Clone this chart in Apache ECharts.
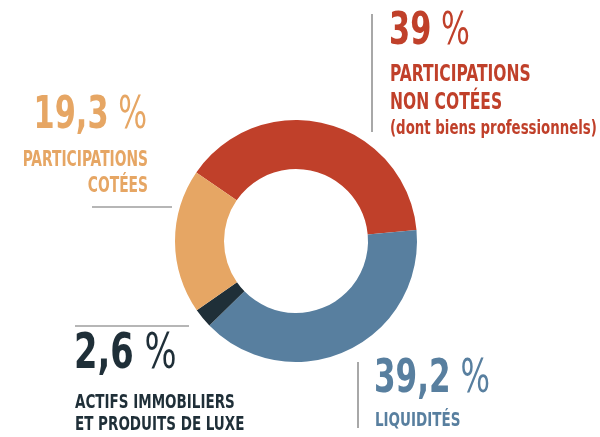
<!DOCTYPE html>
<html>
<head>
<meta charset="utf-8">
<script src="https://cdn.jsdelivr.net/npm/echarts@6/dist/echarts.min.js"></script>
<style>
  html, body { margin: 0; padding: 0; background: #fff; }
  #chart { width: 600px; height: 437px; }
</style>
</head>
<body>
<div id="chart"></div>
<script>
// données de la répartition (sens horaire, à partir du rouge)
const categories = ['Participations non cotées', 'Liquidités', 'Actifs immobiliers et produits de luxe', 'Participations cotées']
const values = [39, 39.2, 2.6, 19.3]
const valueLabels = ['39', '39,2', '2,6', '19,3']
const colors = ['#c0402a', '#587f9f', '#1f2f38', '#e6a664']

const FONT = "'DejaVu Sans Condensed', 'Liberation Sans Narrow', sans-serif"
// police étroite : on compresse horizontalement
const SQUEEZE = 0.75

// texte "valeur %" avec le % plus léger
function bigValue(i, x, y, align, size) {
    return {
        type: 'text',
        x: x,
        y: y,
        scaleX: SQUEEZE,
        style: {
            text: '{n|' + valueLabels[i] + '}{p| %}',
            align: align,
            verticalAlign: 'middle',
            rich: {
                n: { fontFamily: FONT, fontWeight: 'bold', fontSize: size, fill: colors[i] },
                p: { fontFamily: FONT, fontWeight: 'normal', fontSize: size, fill: colors[i] }
            }
        }
    }
}

function label(text, x, y, color, size, align, squeeze) {
    return {
        type: 'text',
        x: x,
        y: y,
        scaleX: squeeze || SQUEEZE,
        style: {
            text: text,
            fontFamily: FONT,
            fontWeight: 'bold',
            fontSize: size,
            fill: color,
            align: align,
            verticalAlign: 'middle'
        }
    }
}

function line(x1, y1, x2, y2) {
    return {
        type: 'line',
        shape: { x1: x1, y1: y1, x2: x2, y2: y2 },
        style: { stroke: '#6e6e6e', lineWidth: 1.2 }
    }
}

const chart = echarts.init(document.getElementById('chart'))
chart.setOption({
    animation: false,
    series: [
        {
            type: 'pie',
            center: [296, 241],
            radius: [72, 121],
            startAngle: 145.5,
            clockwise: true,
            label: { show: false },
            labelLine: { show: false },
            emphasis: { disabled: true },
            data: categories.map((name, i) => ({
                name: name,
                value: values[i],
                itemStyle: { color: colors[i] }
            }))
        }
    ],
    graphic: [
        // participations non cotées
        line(372, 14, 372, 132),
        bigValue(0, 389, 32, 'left', 45),
        label('PARTICIPATIONS', 390, 75, colors[0], 23, 'left'),
        label('NON COTÉES', 390, 103, colors[0], 23, 'left'),
        label('(dont biens professionnels)', 390, 129, colors[0], 19, 'left', 0.78),
        // participations cotées
        bigValue(3, 147, 116, 'right', 45),
        label('PARTICIPATIONS', 148, 161, colors[3], 20.5, 'right'),
        label('COTÉES', 148, 187, colors[3], 20.5, 'right'),
        line(92, 207, 172, 207),
        // actifs immobiliers
        line(75, 326, 189, 326),
        bigValue(2, 74, 355, 'left', 50),
        label('ACTIFS IMMOBILIERS', 75, 403, colors[2], 20, 'left'),
        label('ET PRODUITS DE LUXE', 75, 425, colors[2], 20, 'left'),
        // liquidités
        line(358, 362, 358, 428),
        bigValue(1, 374, 380, 'left', 46),
        label('LIQUIDITÉS', 375, 421, colors[1], 20, 'left')
    ]
})
</script>
</body>
</html>
